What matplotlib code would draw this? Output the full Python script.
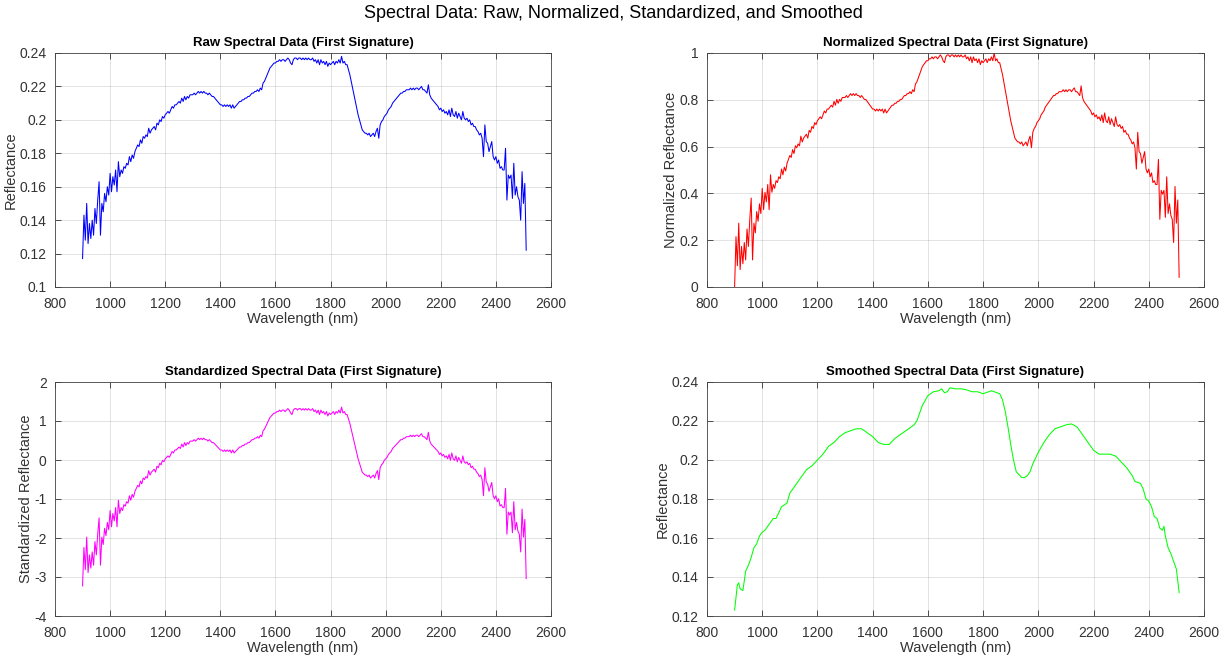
import numpy as np
import matplotlib
matplotlib.use("Agg")
import matplotlib.pyplot as plt

# ---------------- data ----------------
wl_start, wl_step = 900, 5
raw_reflectance = [
    0.117, 0.143, 0.128, 0.150, 0.126, 0.138, 0.129, 0.140, 0.131, 0.147, 0.138, 0.152, 0.163, 0.131, 0.150, 0.145, 0.156, 0.151, 0.160, 0.155,
    0.168, 0.157, 0.166, 0.161, 0.170, 0.157, 0.175, 0.166, 0.170, 0.168, 0.172, 0.171, 0.174, 0.173, 0.178, 0.175, 0.179, 0.177, 0.181, 0.183,
    0.185, 0.184, 0.188, 0.186, 0.190, 0.189, 0.191, 0.190, 0.195, 0.192, 0.194, 0.195, 0.196, 0.194, 0.198, 0.197, 0.200, 0.199, 0.202, 0.201,
    0.203, 0.204, 0.205, 0.204, 0.206, 0.208, 0.207, 0.209, 0.209, 0.210, 0.211, 0.210, 0.213, 0.211, 0.214, 0.212, 0.214, 0.213, 0.215, 0.215,
    0.215, 0.216, 0.215, 0.216, 0.217, 0.216, 0.217, 0.216, 0.217, 0.216, 0.216, 0.215, 0.216, 0.215, 0.214, 0.214, 0.213, 0.212, 0.211, 0.210,
    0.209, 0.209, 0.208, 0.209, 0.208, 0.209, 0.208, 0.209, 0.207, 0.209, 0.207, 0.208, 0.209, 0.210, 0.211, 0.211, 0.212, 0.212, 0.213, 0.213,
    0.214, 0.214, 0.215, 0.216, 0.216, 0.217, 0.217, 0.218, 0.217, 0.219, 0.218, 0.222, 0.223, 0.225, 0.227, 0.229, 0.231, 0.232, 0.233, 0.234,
    0.234, 0.235, 0.235, 0.236, 0.235, 0.236, 0.236, 0.235, 0.236, 0.237, 0.236, 0.234, 0.233, 0.236, 0.237, 0.237, 0.236, 0.237, 0.237, 0.236,
    0.237, 0.236, 0.237, 0.236, 0.237, 0.236, 0.236, 0.237, 0.235, 0.236, 0.234, 0.236, 0.233, 0.236, 0.234, 0.235, 0.233, 0.235, 0.232, 0.234,
    0.233, 0.234, 0.235, 0.233, 0.235, 0.234, 0.236, 0.234, 0.238, 0.234, 0.235, 0.233, 0.233, 0.230, 0.227, 0.223, 0.219, 0.215, 0.211, 0.207,
    0.203, 0.200, 0.197, 0.194, 0.193, 0.192, 0.192, 0.191, 0.192, 0.190, 0.191, 0.192, 0.190, 0.193, 0.195, 0.189, 0.197, 0.199, 0.200, 0.202,
    0.203, 0.204, 0.206, 0.207, 0.208, 0.210, 0.211, 0.212, 0.213, 0.214, 0.215, 0.216, 0.216, 0.217, 0.217, 0.218, 0.218, 0.218, 0.219, 0.218,
    0.219, 0.218, 0.219, 0.219, 0.218, 0.219, 0.220, 0.218, 0.218, 0.217, 0.216, 0.221, 0.215, 0.213, 0.212, 0.211, 0.210, 0.209, 0.208, 0.206,
    0.207, 0.205, 0.206, 0.204, 0.205, 0.203, 0.206, 0.202, 0.207, 0.203, 0.202, 0.205, 0.201, 0.204, 0.202, 0.200, 0.205, 0.201, 0.200, 0.201,
    0.199, 0.200, 0.197, 0.198, 0.196, 0.196, 0.194, 0.193, 0.191, 0.192, 0.189, 0.178, 0.197, 0.187, 0.186, 0.181, 0.184, 0.187, 0.178, 0.176,
    0.178, 0.174, 0.176, 0.171, 0.172, 0.170, 0.170, 0.183, 0.152, 0.167, 0.165, 0.167, 0.153, 0.174, 0.155, 0.160, 0.154, 0.152, 0.140, 0.169,
    0.150, 0.162, 0.122,
]
wavelength = wl_start + wl_step * np.arange(len(raw_reflectance))

smooth_wavelength = [
    900, 910, 915, 920, 930, 940, 950, 960, 970, 980, 990, 1000, 1010, 1020, 1030, 1040, 1050, 1060, 1070, 1080,
    1090, 1100, 1120, 1140, 1160, 1180, 1200, 1220, 1240, 1260, 1280, 1300, 1320, 1340, 1360, 1380, 1400, 1420, 1440, 1460,
    1480, 1500, 1520, 1540, 1550, 1560, 1580, 1600, 1620, 1640, 1650, 1660, 1670, 1680, 1700, 1720, 1740, 1760, 1780, 1800,
    1820, 1830, 1840, 1860, 1870, 1880, 1890, 1900, 1910, 1920, 1940, 1950, 1960, 1970, 1980, 2000, 2020, 2040, 2060, 2080,
    2100, 2120, 2140, 2160, 2180, 2200, 2220, 2240, 2260, 2280, 2300, 2320, 2340, 2350, 2370, 2380, 2390, 2400, 2410, 2420,
    2430, 2440, 2450, 2455, 2460, 2470, 2480, 2490, 2500, 2510,
]
smooth_reflectance = [
    0.123, 0.136, 0.137, 0.134, 0.133, 0.143, 0.146, 0.150, 0.155, 0.157, 0.161, 0.163, 0.164, 0.166, 0.168, 0.170, 0.170, 0.173, 0.176, 0.177,
    0.178, 0.183, 0.187, 0.191, 0.195, 0.197, 0.200, 0.203, 0.207, 0.209, 0.212, 0.214, 0.215, 0.216, 0.216, 0.214, 0.212, 0.209, 0.208, 0.208,
    0.211, 0.213, 0.215, 0.217, 0.218, 0.220, 0.228, 0.233, 0.235, 0.2355, 0.2365, 0.2345, 0.235, 0.237, 0.2365, 0.2365, 0.236, 0.235, 0.235, 0.234,
    0.235, 0.2355, 0.235, 0.234, 0.231, 0.225, 0.217, 0.208, 0.200, 0.194, 0.191, 0.191, 0.192, 0.194, 0.198, 0.204, 0.209, 0.213, 0.216, 0.217,
    0.218, 0.2185, 0.217, 0.213, 0.209, 0.205, 0.203, 0.203, 0.203, 0.202, 0.199, 0.196, 0.192, 0.189, 0.188, 0.185, 0.180, 0.179, 0.176, 0.171,
    0.170, 0.165, 0.164, 0.166, 0.161, 0.155, 0.152, 0.148, 0.144, 0.132,
]

raw = np.array(raw_reflectance)
normalized = (raw - raw.min()) / (raw.max() - raw.min())
standardized = (raw - raw.mean()) / raw.std(ddof=1)

titles = [
    "Raw Spectral Data (First Signature)",
    "Normalized Spectral Data (First Signature)",
    "Standardized Spectral Data (First Signature)",
    "Smoothed Spectral Data (First Signature)",
]
ylabels = ["Reflectance", "Normalized Reflectance", "Standardized Reflectance", "Reflectance"]
colors = ["#0000ff", "#ff0000", "#ff00ff", "#00ff00"]
ylims = [(0.1, 0.24), (0, 1), (-4, 2), (0.12, 0.24)]
yticks = [
    [0.1, 0.12, 0.14, 0.16, 0.18, 0.2, 0.22, 0.24],
    [0, 0.2, 0.4, 0.6, 0.8, 1],
    [-4, -3, -2, -1, 0, 1, 2],
    [0.12, 0.14, 0.16, 0.18, 0.2, 0.22, 0.24],
]
xticks = [800, 1000, 1200, 1400, 1600, 1800, 2000, 2200, 2400, 2600]

# ---------------- figure ----------------
plt.rcParams["font.family"] = ["Liberation Sans", "DejaVu Sans"]
W, H = 1226, 659
fig = plt.figure(figsize=(W / 100, H / 100), dpi=100)

def px_axes(x0, x1, y0, y1):
    return fig.add_axes([x0 / W, 1 - y1 / H, (x1 - x0) / W, (y1 - y0) / H])

axes = [
    px_axes(55, 551, 53, 287),
    px_axes(707, 1204, 53, 287),
    px_axes(55, 551, 382, 616),
    px_axes(707, 1204, 382, 616),
]
series = [
    (wavelength, raw),
    (wavelength, normalized),
    (wavelength, standardized),
    (smooth_wavelength, smooth_reflectance),
]

def fmt(v):
    return "%g" % v

for ax, (x, y), t, yl, c, lim, yt in zip(axes, series, titles, ylabels, colors, ylims, yticks):
    ax.plot(x, y, color=c, lw=0.75)
    ax.set_xlim(800, 2600)
    ax.set_ylim(*lim)
    ax.set_xticks(xticks)
    ax.set_xticklabels([fmt(v) for v in xticks])
    ax.set_yticks(yt)
    ax.set_yticklabels([fmt(v) for v in yt])
    ax.grid(True, color="#262626", alpha=0.15, lw=0.6)
    ax.set_axisbelow(True)
    ax.tick_params(direction="in", length=4, width=0.6, top=True, right=True,
                   labelsize=10, colors="#333333")
    ax.tick_params(axis="x", pad=7)
    ax.tick_params(axis="y", pad=6)
    for sp in ax.spines.values():
        sp.set_color("#444444")
        sp.set_linewidth(0.6)
    ax.set_title(t, fontsize=9.5, fontweight="bold", color="#000000", pad=5)
    ax.set_xlabel("Wavelength (nm)", fontsize=10.5, color="#333333", labelpad=1)
    ax.set_ylabel(yl, fontsize=10.5, color="#333333", labelpad=1)

fig.text(0.5, 1 - 14 / H, "Spectral Data: Raw, Normalized, Standardized, and Smoothed",
         ha="center", va="center", fontsize=13, color="#000000")

fig.savefig("out.png", dpi=100, facecolor="white")
